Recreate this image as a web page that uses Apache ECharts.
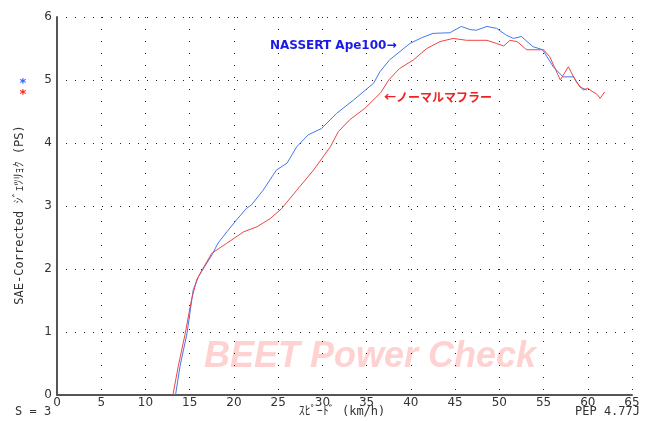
<!DOCTYPE html>
<html>
<head>
<meta charset="utf-8">
<script src="https://cdn.jsdelivr.net/npm/echarts@6/dist/echarts.min.js"></script>
<style>
  html, body { margin: 0; padding: 0; background: #fff; }
  #chart { width: 651px; height: 421px; }
</style>
</head>
<body>
<div id="chart"></div>
<script>
// NASSERT Ape100 (blue)
const nassertSpeed = [13.4, 13.9, 14.7, 15.4, 16.0, 16.7, 17.5, 18.2, 19.2, 20.3, 21.4, 22.0, 23.3, 24.8, 26.0, 27.1, 28.4, 29.9, 31.6, 33.5, 35.8, 36.5, 37.6, 39.9, 41.2, 42.5, 44.4, 45.7, 46.7, 47.4, 48.6, 49.7, 50.8, 51.6, 52.5, 53.8, 54.9, 56.1, 57.2, 58.4, 59.1, 59.9];
const nassertPower = [0, 0.45, 0.98, 1.67, 1.88, 2.04, 2.22, 2.41, 2.59, 2.78, 2.96, 3.02, 3.25, 3.57, 3.68, 3.94, 4.13, 4.23, 4.47, 4.68, 4.95, 5.13, 5.32, 5.58, 5.67, 5.74, 5.75, 5.85, 5.80, 5.79, 5.85, 5.82, 5.71, 5.66, 5.69, 5.53, 5.48, 5.21, 5.05, 5.05, 4.89, 4.84];

// ノーマルマフラー (red)
const normalSpeed = [13.1, 13.7, 14.5, 15.2, 15.8, 16.5, 17.5, 19.2, 21.1, 22.6, 24.1, 25.4, 27.1, 29.0, 30.9, 31.8, 33.1, 34.8, 36.6, 37.5, 38.7, 40.3, 41.8, 43.3, 44.8, 46.3, 48.6, 49.7, 50.5, 51.2, 52.0, 53.1, 55.0, 55.7, 56.9, 57.8, 58.7, 59.5, 60.0, 60.6, 61.0, 61.4, 61.9];
const normalPower = [0, 0.45, 0.98, 1.51, 1.83, 2.01, 2.25, 2.41, 2.59, 2.67, 2.80, 2.96, 3.25, 3.57, 3.94, 4.18, 4.37, 4.55, 4.80, 5.0, 5.18, 5.32, 5.50, 5.61, 5.66, 5.63, 5.63, 5.58, 5.54, 5.63, 5.61, 5.48, 5.48, 5.37, 5.0, 5.21, 4.97, 4.84, 4.87, 4.81, 4.78, 4.71, 4.81];

const pairs = (xs, ys) => xs.map((x, i) => [x, ys[i]]);

const chart = echarts.init(document.getElementById('chart'), null, { renderer: 'canvas' });

const font = 'DejaVu Sans';
const mono = '"DejaVu Sans Mono", "Noto Sans CJK JP"';
const textColor = '#333';

const option = {
  backgroundColor: '#fff',
  animation: false,
  grid: { left: 57, right: 19, top: 17, bottom: 26 },
  xAxis: {
    type: 'value',
    min: 0,
    max: 65,
    interval: 5,
    axisLine: { show: true, lineStyle: { color: '#555', width: 2 } },
    axisTick: { show: false },
    axisLabel: { color: textColor, fontFamily: font, fontSize: 12, margin: 2 },
    splitLine: { show: true, lineStyle: { color: '#222', width: 1, type: [1, 11] } }
  },
  yAxis: {
    type: 'value',
    min: 0,
    max: 6,
    interval: 1,
    axisLine: { show: true, lineStyle: { color: '#555', width: 2 } },
    axisTick: { show: false },
    axisLabel: { color: textColor, fontFamily: font, fontSize: 12, margin: 5 },
    splitLine: { show: true, lineStyle: { color: '#222', width: 1, type: [1, 8] } }
  },
  graphic: [
    {
      type: 'text', left: 204, top: 339, z: 0,
      style: { text: 'BEET Power Check', font: 'italic bold 36px Liberation Sans', fill: '#ffd2d2' }
    },
    {
      type: 'text', x: 20, y: 215, rotation: Math.PI / 2,
      style: { text: 'SAE-Corrected ｼﾞｪﾂﾘｮｸ (PS)', font: '12px ' + mono, fill: textColor, align: 'center', verticalAlign: 'middle' }
    },
    {
      type: 'text', x: 23, y: 84,
      style: { text: '*', font: 'bold 13px ' + font, fill: '#3366ff', align: 'center', verticalAlign: 'middle' }
    },
    {
      type: 'text', x: 23, y: 95,
      style: { text: '*', font: 'bold 13px ' + font, fill: '#ff2222', align: 'center', verticalAlign: 'middle' }
    },
    {
      type: 'text', x: 270, y: 46,
      style: { text: 'NASSERT Ape100→', font: 'bold 12px ' + font, fill: '#1a1ae6', verticalAlign: 'middle' }
    },
    {
      type: 'text', x: 384, y: 97,
      style: { text: '←ノーマルマフラー', font: 'bold 12px "Noto Sans CJK JP"', fill: '#ee2222', verticalAlign: 'middle' }
    },
    {
      type: 'text', x: 15, y: 412,
      style: { text: 'S = 3', font: '12px ' + mono, fill: textColor, verticalAlign: 'middle' }
    },
    {
      type: 'text', x: 342, y: 412,
      style: { text: 'ｽﾋﾟｰﾄﾞ (km/h)', font: '12px ' + mono, fill: textColor, align: 'center', verticalAlign: 'middle' }
    },
    {
      type: 'text', x: 640, y: 412,
      style: { text: 'PEP 4.77J', font: '12px ' + mono, fill: textColor, align: 'right', verticalAlign: 'middle' }
    }
  ],
  series: [
    {
      name: 'NASSERT Ape100',
      type: 'line',
      data: pairs(nassertSpeed, nassertPower),
      showSymbol: false,
      lineStyle: { color: '#4477ee', width: 1 },
      itemStyle: { color: '#4477ee' },
      z: 3
    },
    {
      name: 'ノーマルマフラー',
      type: 'line',
      data: pairs(normalSpeed, normalPower),
      showSymbol: false,
      lineStyle: { color: '#ee4444', width: 1 },
      itemStyle: { color: '#ee4444' },
      z: 4
    }
  ]
};

chart.setOption(option);
</script>
</body>
</html>
